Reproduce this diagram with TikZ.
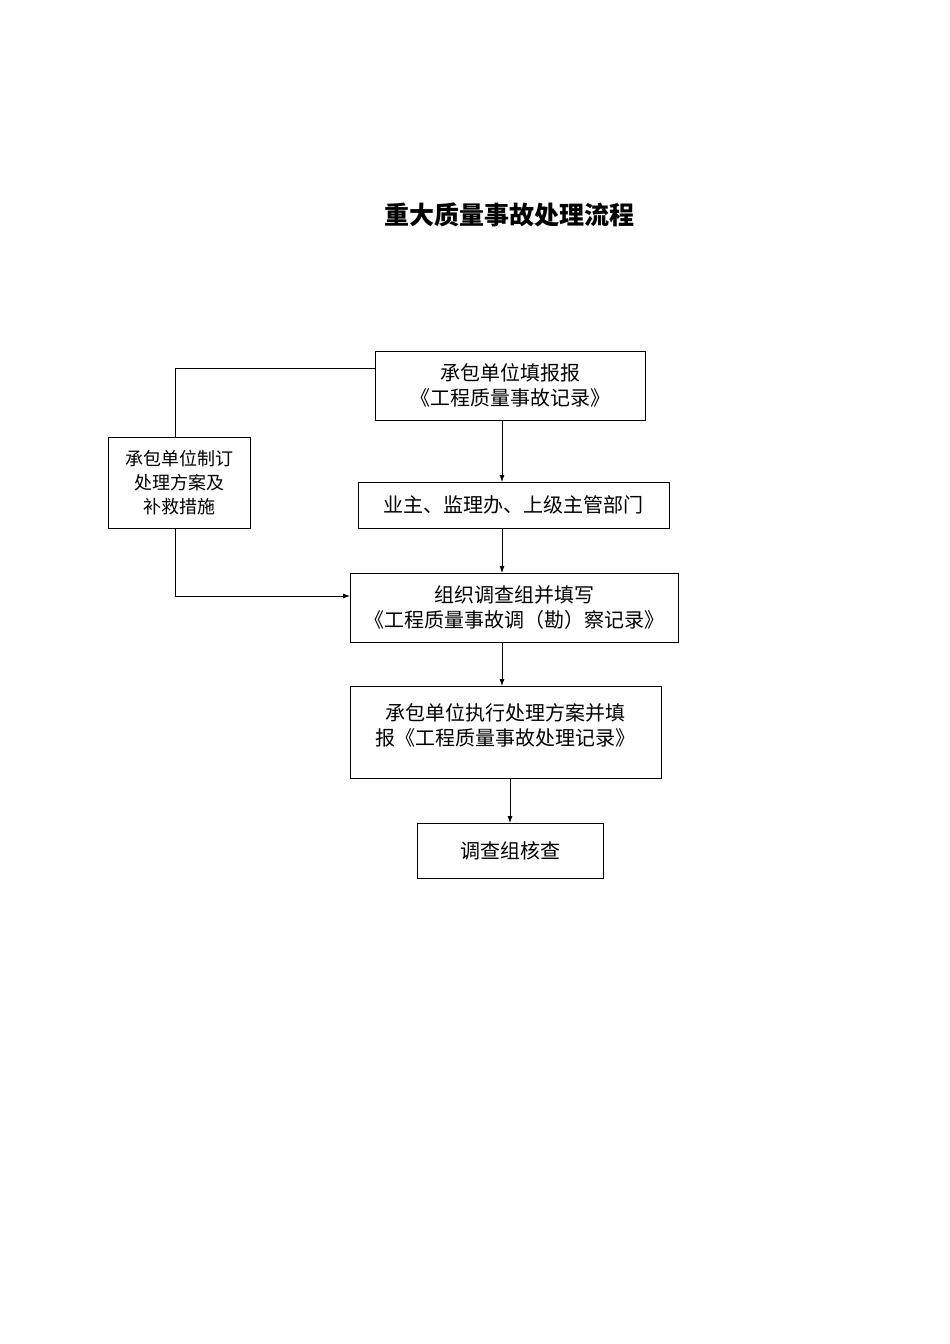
\documentclass[tikz,border=0pt]{standalone}
\usepackage{fontspec}
\setmainfont{Noto Sans CJK SC}
\usetikzlibrary{arrows.meta}
\begin{document}
\begin{tikzpicture}[x=1pt,y=-1pt,
  box/.style={draw,line width=0.8pt,align=center,font=\fontsize{20}{25}\selectfont,inner sep=0},
  arr/.style={-{Latex[length=7pt,width=5pt]},line width=0.8pt}]
\useasboundingbox (0,0) rectangle (950,1344);
\node[font=\fontsize{25}{30}\selectfont\bfseries] (t) at (509,215) {重大质量事故处理流程};
\draw[line width=0.8pt] (375,351) rectangle (645,420);
\node[box,draw=none] (a) at (510,385.5) {承包单位填报报\\《工程质量事故记录》};
\coordinate (aS) at (502,420); \coordinate (aW) at (375,368);
\draw[line width=0.8pt] (358,482) rectangle (669,528);
\node[box,draw=none] (b) at (513.5,505) {业主、监理办、上级主管部门};
\coordinate (bN) at (502,482); \coordinate (bS) at (502,528);
\draw[line width=0.8pt] (350,573) rectangle (678,642);
\node[box,draw=none] (c) at (514,607.5) {组织调查组并填写\\《工程质量事故调（勘）察记录》};
\coordinate (cN) at (502,573); \coordinate (cS) at (502,642); \coordinate (cW) at (350,596);
\draw[line width=0.8pt] (350,686) rectangle (661,778);
\node[box,draw=none] (d) at (505.5,725) {承包单位执行处理方案并填\\报《工程质量事故处理记录》};
\coordinate (dN) at (502,686); \coordinate (dS) at (510,778);
\draw[line width=0.8pt] (417,823) rectangle (603,878);
\node[box,draw=none] (e) at (510,850.5) {调查组核查};
\coordinate (eN) at (510,823);
\draw[line width=0.8pt] (108,437) rectangle (250,528);
\node[box,draw=none,font=\fontsize{18}{24}\selectfont] (l) at (179,482.5) {承包单位制订\\处理方案及\\补救措施};
\coordinate (lN) at (175,437); \coordinate (lS) at (175,528);
\draw[arr] (aS) -- (bN);
\draw[arr] (bS) -- (cN);
\draw[arr] (cS) -- (dN);
\draw[arr] (dS) -- (eN);
\draw[line width=0.8pt] (aW) -| (lN);
\draw[arr] (lS) |- (cW);
\end{tikzpicture}
\end{document}
